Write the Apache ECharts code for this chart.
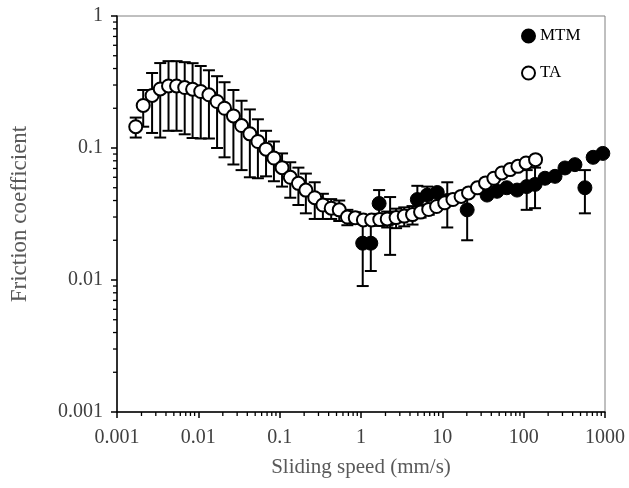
<!DOCTYPE html>
<html>
<head>
<meta charset="utf-8">
<script src="https://cdn.jsdelivr.net/npm/echarts@6/dist/echarts.min.js"></script>
<style>
  html, body { margin: 0; padding: 0; background: #fff; }
  #chart { width: 629px; height: 488px; }
</style>
</head>
<body>
<div id="chart"></div>
<script>
// TA (open circles)
var taX = [0.0017, 0.0021, 0.0027, 0.0034, 0.0043, 0.0054, 0.0068, 0.0085, 0.0107, 0.0135,
           0.017, 0.021, 0.027, 0.034, 0.043, 0.054, 0.068, 0.085, 0.107, 0.135,
           0.17, 0.21, 0.27, 0.34, 0.43, 0.54, 0.68, 0.85, 1.07, 1.35,
           1.7, 2.1, 2.7, 3.4, 4.3, 5.4, 6.8, 8.5, 10.7, 13.5,
           17, 21, 27, 34, 43, 54, 68, 85, 107, 140];
var taY = [0.145, 0.21, 0.25, 0.28, 0.295, 0.295, 0.287, 0.279, 0.268, 0.253,
           0.225, 0.20, 0.175, 0.148, 0.128, 0.112, 0.098, 0.084, 0.071, 0.060,
           0.054, 0.048, 0.042, 0.037, 0.035, 0.034, 0.030, 0.0296, 0.0285, 0.0285,
           0.0287, 0.029, 0.0297, 0.0305, 0.0313, 0.0327, 0.0342, 0.036, 0.0384, 0.0407,
           0.043, 0.0457, 0.0499, 0.0544, 0.059, 0.0647, 0.0686, 0.0726, 0.077, 0.0816];
var taErr = [0.025, 0.065, 0.12, 0.16, 0.16, 0.16, 0.16, 0.16, 0.15, 0.135,
             0.125, 0.115, 0.10, 0.08, 0.068, 0.053, 0.037, 0.028, 0.02, 0.018,
             0.017, 0.016, 0.013, 0.008, 0.006, 0.006, 0.004, 0.003, 0.002, 0.002,
             0.003, 0.004, 0.005, 0.005, 0.005, 0.003, 0.003, 0.002, 0.002, 0.002,
             0.002, 0.002, 0.002, 0.002, 0.002, 0.002, 0.002, 0.002, 0.002, 0.002];

// MTM (filled circles)
var mtmX = [1.05, 1.32, 1.67, 2.28, 4.93, 6.53, 8.66, 11.5, 20.2, 35.5,
            47, 62, 83, 109, 138, 183, 243, 322, 427, 566, 715, 940];
var mtmY = [0.019, 0.019, 0.038, 0.029, 0.0407, 0.044, 0.046, 0.040, 0.034, 0.044,
            0.047, 0.050, 0.048, 0.051, 0.053, 0.059, 0.061, 0.0706, 0.0748, 0.050, 0.085, 0.091];
var mtmErr = [0.010, 0.0073, 0.010, 0.0135, 0.011, 0.007, 0.003, 0.015, 0.014, 0,
              0, 0, 0, 0.017, 0.018, 0, 0, 0, 0, 0.018, 0, 0];

var xTickLabels = ['0.001', '0.01', '0.1', '1', '10', '100', '1000'];
var yTickLabels = ['0.001', '0.01', '0.1', '1'];
var minorMult = [2, 3, 4, 5, 6, 7, 8, 9];

var chart = echarts.init(document.getElementById('chart'));

function pairs(xs, ys) {
  return xs.map(function (x, i) { return [x, ys[i]]; });
}
function errData(xs, ys, es) {
  var out = [];
  xs.forEach(function (x, i) {
    if (es[i] > 0) out.push([x, Math.max(ys[i] - es[i], 0.001), ys[i] + es[i]]);
  });
  return out;
}

function renderErr(params, api) {
  var top = api.coord([api.value(0), api.value(2)]);
  var bot = api.coord([api.value(0), api.value(1)]);
  var w = 6;
  var st = { stroke: '#000', lineWidth: 2 };
  return {
    type: 'group',
    children: [
      { type: 'line', shape: { x1: top[0], y1: top[1], x2: bot[0], y2: bot[1] }, style: st },
      { type: 'line', shape: { x1: top[0] - w, y1: top[1], x2: top[0] + w, y2: top[1] }, style: st },
      { type: 'line', shape: { x1: bot[0] - w, y1: bot[1], x2: bot[0] + w, y2: bot[1] }, style: st }
    ]
  };
}

// minor log ticks
var xMinor = [], yMinor = [];
for (var e = -3; e < 3; e++) {
  minorMult.forEach(function (m) { xMinor.push([m * Math.pow(10, e), 0.001]); });
}
for (var e2 = -3; e2 < 0; e2++) {
  minorMult.forEach(function (m) { yMinor.push([0.001, m * Math.pow(10, e2)]); });
}

var font = 'Liberation Serif';

chart.setOption({
  animation: false,
  backgroundColor: '#fff',
  grid: {
    left: 115, right: 24, top: 16, bottom: 76,
    show: true, borderColor: '#808080', borderWidth: 1
  },
  legend: {
    data: ['MTM', 'TA'],
    orient: 'vertical',
    left: 521, top: 27, padding: 0,
    itemWidth: 13, itemHeight: 13, itemGap: 19,
    textStyle: { fontFamily: font, fontSize: 17, color: '#000', lineHeight: 18 }
  },
  xAxis: {
    type: 'log', logBase: 10, min: 0.001, max: 1000, interval: 1,
    name: 'Sliding speed (mm/s)', nameLocation: 'middle', nameGap: 45,
    nameTextStyle: { fontFamily: font, fontSize: 21, color: '#595959' },
    axisLine: { lineStyle: { color: '#000', width: 1.5 } },
    axisTick: { length: 6, lineStyle: { color: '#000', width: 1.5 } },
    axisLabel: {
      fontFamily: font, fontSize: 20, color: '#404040', margin: 16,
      formatter: function (v) { return xTickLabels[Math.round(Math.log10(v)) + 3]; }
    },
    splitLine: { show: false }
  },
  yAxis: {
    type: 'log', logBase: 10, min: 0.001, max: 1, interval: 1,
    name: 'Friction coefficient', nameLocation: 'middle', nameGap: 86,
    nameTextStyle: { fontFamily: font, fontSize: 23, color: '#595959' },
    axisLine: { lineStyle: { color: '#000', width: 1.5 } },
    axisTick: { length: 6, lineStyle: { color: '#000', width: 1.5 } },
    axisLabel: {
      fontFamily: font, fontSize: 20, color: '#404040', margin: 14,
      formatter: function (v) { return yTickLabels[Math.round(Math.log10(v)) + 3]; }
    },
    splitLine: { show: false }
  },
  series: [
    {
      type: 'custom', name: 'xminor', data: xMinor, z: 1, silent: true,
      renderItem: function (params, api) {
        var p = api.coord([api.value(0), api.value(1)]);
        return { type: 'line', shape: { x1: p[0], y1: p[1], x2: p[0], y2: p[1] + 4 },
                 style: { stroke: '#000', lineWidth: 1.3 } };
      }
    },
    {
      type: 'custom', name: 'yminor', data: yMinor, z: 1, silent: true,
      renderItem: function (params, api) {
        var p = api.coord([api.value(0), api.value(1)]);
        return { type: 'line', shape: { x1: p[0] - 4, y1: p[1], x2: p[0], y2: p[1] },
                 style: { stroke: '#000', lineWidth: 1.3 } };
      }
    },
    {
      type: 'custom', name: 'MTM err', data: errData(mtmX, mtmY, mtmErr), z: 2,
      encode: { x: 0, y: [1, 2] }, renderItem: renderErr
    },
    {
      type: 'scatter', name: 'MTM', data: pairs(mtmX, mtmY), z: 3,
      symbol: 'circle', symbolSize: 14,
      itemStyle: { color: '#000', borderColor: '#000', borderWidth: 1, opacity: 1 }
    },
    {
      type: 'custom', name: 'TA err', data: errData(taX, taY, taErr), z: 4,
      encode: { x: 0, y: [1, 2] }, renderItem: renderErr
    },
    {
      type: 'scatter', name: 'TA', data: pairs(taX, taY), z: 5,
      symbol: 'circle', symbolSize: 13,
      itemStyle: { color: '#fff', borderColor: '#000', borderWidth: 2, opacity: 1 }
    }
  ]
});
</script>
</body>
</html>
